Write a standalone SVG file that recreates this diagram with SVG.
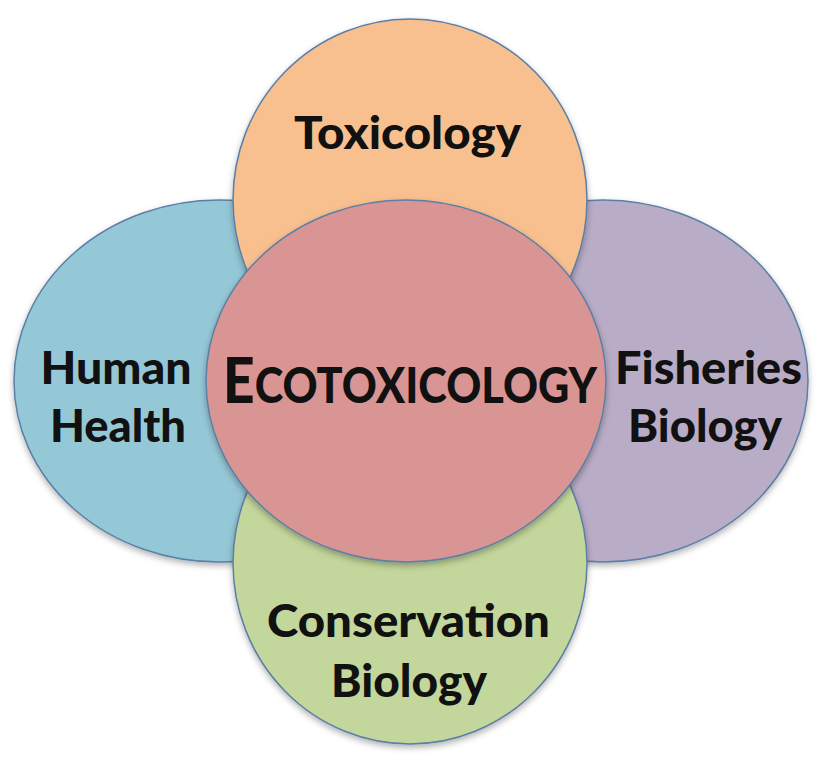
<svg xmlns="http://www.w3.org/2000/svg" width="825" height="758" viewBox="0 0 825 758">
<defs>
<filter id="sh" x="-10%" y="-10%" width="120%" height="125%">
<feDropShadow dx="0" dy="3" stdDeviation="3" flood-color="#000" flood-opacity="0.3"/>
</filter>
</defs>
<style>
.c{stroke:#5b7fa6;stroke-width:1.5;filter:url(#sh)}
.t{font-family:Lato,"Open Sans","Liberation Sans",sans-serif;font-weight:900;fill:#111;text-anchor:middle;font-size:45px}
</style>
<rect width="825" height="758" fill="#fff"/>
<g id="human-health">
<ellipse class="c" cx="219" cy="381" rx="205" ry="181" fill="#95c8d7"/>
</g>
<g id="fisheries-biology">
<ellipse class="c" cx="603" cy="381" rx="205" ry="181" fill="#b9acc7"/>
</g>
<g id="toxicology">
<ellipse class="c" cx="410" cy="200" rx="177" ry="181" fill="#f9c08f"/>
<text class="t" x="407.5" y="149" textLength="227" lengthAdjust="spacingAndGlyphs">Toxicology</text>
</g>
<g id="conservation-biology">
<ellipse class="c" cx="410" cy="563" rx="177" ry="181" fill="#c3d69b"/>
<text class="t" x="408.5" y="637" textLength="283" lengthAdjust="spacingAndGlyphs">Conservation</text>
<text class="t" x="409" y="697" textLength="156" lengthAdjust="spacingAndGlyphs">Biology</text>
</g>
<g id="ecotoxicology">
<ellipse class="c" cx="406" cy="381" rx="200" ry="181" fill="#d99594"/>
<text class="t" transform="translate(410 403) scale(1 1.13)" x="0" y="0" style="font-size:44px" textLength="374" lengthAdjust="spacingAndGlyphs"><tspan style="font-size:56px">E</tspan>COTOXICOLOGY</text>
</g>
<g id="labels">
<text class="t" x="116" y="384" textLength="151" lengthAdjust="spacingAndGlyphs">Human</text>
<text class="t" x="118" y="442" textLength="136" lengthAdjust="spacingAndGlyphs">Health</text>
<text class="t" x="708.5" y="384" textLength="187" lengthAdjust="spacingAndGlyphs">Fisheries</text>
<text class="t" x="705" y="442" textLength="154" lengthAdjust="spacingAndGlyphs">Biology</text>
</g>
<g id="connectors"/>
</svg>
